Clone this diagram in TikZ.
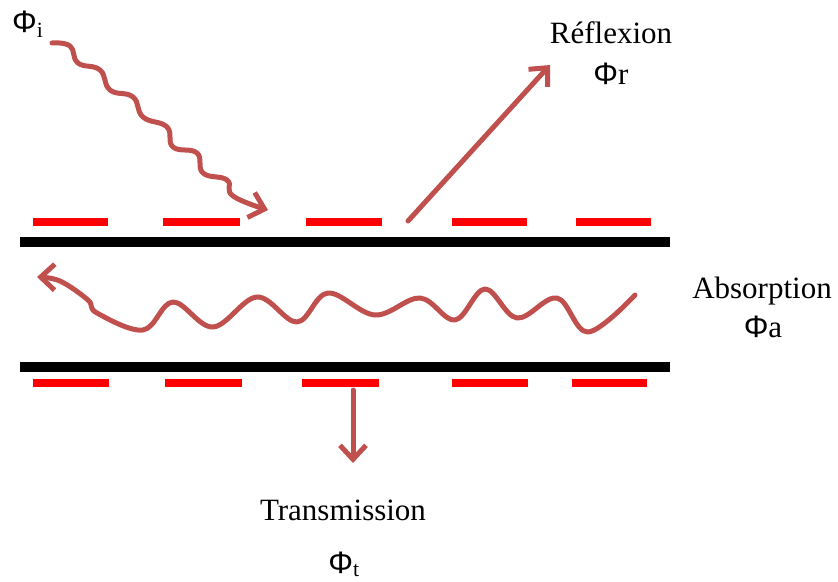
\documentclass[tikz,border=0pt]{standalone}
\usepackage{fontspec}
\setmainfont{Liberation Serif}
\newfontfamily\phifont{Liberation Sans}
\usetikzlibrary{arrows.meta}
\definecolor{raycol}{HTML}{C0504D}
\newcommand{\flux}[1]{{\phifont Φ}#1}

\begin{document}
\begin{tikzpicture}[x=1pt,y=-1pt]
	\tikzset{ray/.style={draw=raycol,line width=5pt,line cap=round,line join=round,-{Straight Barb[length=14pt,width=26pt]}},
		plate/.style={line width=10pt},
		film/.style={draw=red,line width=8pt},
		lbl/.style={font=\fontsize{31}{36}\selectfont,inner sep=0pt,anchor=base}}
	\useasboundingbox (0,0) rectangle (838,581);

	% plates and films
	\draw[plate] (20,242) -- (670,242);
	\draw[plate] (20,367) -- (670,367);
	\foreach \a/\b in {33/108,163/240,306/382,452/527,576/651}
		\draw[film] (\a,222) -- (\b,222);
	\foreach \a/\b in {33/109,165/242,302/379,452/528,572/647}
		\draw[film] (\a,383) -- (\b,383);

	% labels
	\node[lbl,anchor=base west] (phii) at (12,32) {\flux{}\textsubscript{i}};
	\node[lbl] (refl) at (611,43) {Réflexion};
	\node[lbl] (phir) at (611,84) {\flux{r}};
	\node[lbl] (absorp) at (762,298) {Absorption};
	\node[lbl] (phia) at (763,337) {\flux{a}};
	\node[lbl] (trans) at (343,520) {Transmission};
	\node[lbl] (phit) at (344,573) {\flux{}\textsubscript{t}};

	% rays
	\coordinate (in0) at (52,43);
	\coordinate (in1) at (268,210);
	\coordinate (r0) at (408,221);
	\coordinate (r1) at (550,65);
	\coordinate (a0) at (635,295);
	\coordinate (a1) at (37,277);
	\coordinate (t0) at (353,390);
	\coordinate (t1) at (353,463);

	\draw[ray] plot[smooth,tension=0.75] coordinates {(in0) (70,46) (78,63) (100,70) (110,90) (133,97) (143,117) (167,127) (173,147) (197,153) (203,173) (227,180) (233,196) (in1)};
	\draw[ray] (r0) -- (r1);
	\draw[ray] plot[smooth,tension=0.6] coordinates {(a0) (588,332) (557,298) (517,318) (485,289) (455,320) (420,298) (375,315) (328,293) (297,322) (257,297) (213,327) (173,302) (143,330) (97,313) (88,300) (60,281) (a1)};
	\draw[ray] (t0) -- (t1);
\end{tikzpicture}
\end{document}
